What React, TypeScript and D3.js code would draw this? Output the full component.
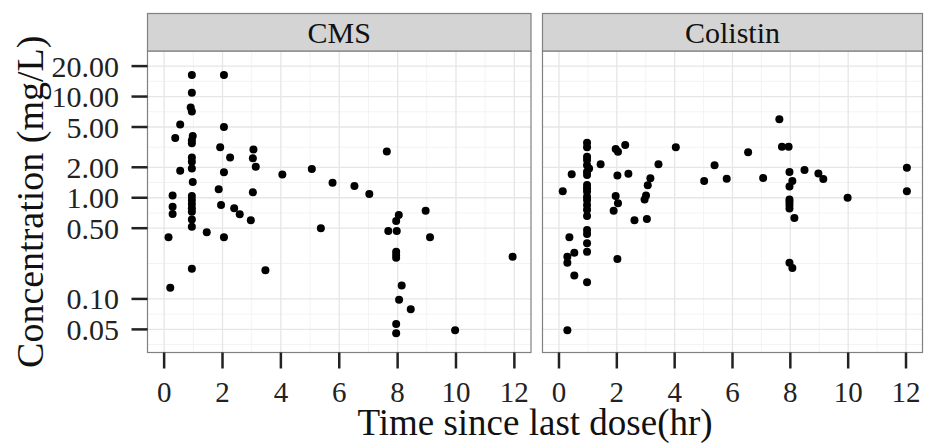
import React from "react";
import * as d3 from "d3";

const panelNames = ["CMS", "Colistin"];

const cmsTime = [0.95, 2.05, 0.95, 0.91, 0.95, 0.55, 2.05, 0.38, 0.98, 0.95, 0.95, 1.92, 3.06, 2.26, 3.04, 0.95, 0.95, 0.95, 0.55, 2.05, 3.14, 4.05, 5.06, 5.77, 0.98, 0.29, 0.95, 1.87, 3.04, 7.63, 6.52, 7.03, 0.95, 0.95, 0.29, 0.95, 0.95, 0.29, 1.95, 2.4, 2.59, 2.97, 0.95, 0.95, 0.15, 1.46, 2.05, 5.37, 0.95, 3.47, 0.21, 8.96, 8.04, 7.95, 7.68, 7.97, 9.11, 7.95, 7.95, 7.95, 11.94, 8.14, 8.05, 8.45, 7.95, 7.95, 9.97];
const cmsConc = [16.3, 16.3, 10.9, 7.8, 7.1, 5.3, 5.0, 3.9, 4.07, 3.7, 3.45, 3.15, 3.0, 2.5, 2.45, 2.5, 2.27, 1.95, 1.85, 1.79, 2.02, 1.7, 1.92, 1.41, 1.43, 1.05, 1.04, 1.21, 1.13, 2.87, 1.31, 1.09, 0.95, 0.866, 0.815, 0.786, 0.727, 0.69, 0.847, 0.786, 0.685, 0.6, 0.61, 0.517, 0.406, 0.455, 0.406, 0.5, 0.199, 0.192, 0.129, 0.744, 0.675, 0.59, 0.469, 0.469, 0.406, 0.292, 0.272, 0.255, 0.261, 0.136, 0.098, 0.079, 0.0565, 0.0457, 0.049];

const colTime = [0.97, 0.97, 1.96, 2.04, 2.29, 4.04, 0.97, 0.97, 1.04, 0.97, 0.97, 0.97, 1.44, 0.44, 3.44, 2.02, 2.4, 3.16, 3.07, 5.38, 5.02, 5.8, 0.97, 0.97, 0.97, 0.97, 0.13, 1.96, 3.01, 0.97, 0.97, 0.97, 0.97, 2.04, 1.89, 2.96, 2.61, 3.04, 0.97, 0.97, 0.36, 0.97, 0.97, 0.53, 0.29, 0.29, 2.02, 0.53, 0.97, 0.29, 7.62, 7.71, 7.94, 6.54, 8.49, 7.97, 8.97, 9.14, 7.06, 8.07, 7.97, 12.03, 12.03, 9.98, 7.97, 7.97, 7.97, 7.97, 8.14, 7.97, 8.07];
const colConc = [3.5, 3.15, 3.03, 2.85, 3.32, 3.15, 2.54, 2.36, 1.95, 2.1, 1.81, 1.68, 2.14, 1.71, 2.14, 1.66, 1.73, 1.56, 1.33, 2.09, 1.46, 1.54, 1.34, 1.24, 1.15, 1.02, 1.16, 1.04, 1.05, 0.95, 0.85, 0.76, 0.66, 0.88, 0.744, 0.96, 0.6, 0.616, 0.48, 0.437, 0.406, 0.355, 0.292, 0.286, 0.261, 0.228, 0.248, 0.17, 0.146, 0.049, 5.96, 3.19, 3.19, 2.81, 1.88, 1.8, 1.74, 1.53, 1.57, 1.46, 1.29, 1.98, 1.16, 1.0, 0.96, 0.91, 0.85, 0.785, 0.63, 0.228, 0.202];

const xTicks = [0, 2, 4, 6, 8, 10, 12];
const xMinor = [1, 3, 5, 7, 9, 11];
const yTicks = [0.05, 0.1, 0.5, 1, 2, 5, 10, 20];
const yTickLabels = ["0.05", "0.10", "0.50", "1.00", "2.00", "5.00", "10.00", "20.00"];

const FONT = "'Liberation Serif', 'Times New Roman', serif";

export default function App() {
  const top = 51;
  const bottom = 352.5;
  const stripTop = 13.5;
  const panelX = [
    [147.5, 531],
    [542.5, 922.5],
  ];
  const y = d3.scaleLog().domain([0.02955, 28.2]).range([bottom, top]);
  const ly = yTicks.map((v) => Math.log10(v));
  const dom = y.domain().map((v) => Math.log10(v));
  const yMinor: number[] = [];
  for (let i = 0; i < ly.length - 1; i++) yMinor.push(Math.pow(10, (ly[i] + ly[i + 1]) / 2));
  const step0 = ly[1] - ly[0];
  if (ly[0] - step0 / 2 > dom[0]) yMinor.push(Math.pow(10, ly[0] - step0 / 2));
  const stepN = ly[ly.length - 1] - ly[ly.length - 2];
  if (ly[ly.length - 1] + stepN / 2 < dom[1]) yMinor.push(Math.pow(10, ly[ly.length - 1] + stepN / 2));

  const datasets = [
    { t: cmsTime, c: cmsConc },
    { t: colTime, c: colConc },
  ];

  return (
    <svg width={925} height={443} style={{ display: "block", position: "absolute", left: 0, top: 0, background: "#fff" }}>
      <rect x={0} y={0} width={925} height={443} fill="#fff" />
      {panelX.map((px, pi) => {
        const x = d3.scaleLinear().domain([-0.57, 12.57]).range(px);
        const ds = datasets[pi];
        return (
          <g key={pi}>
            <rect x={px[0]} y={top} width={px[1] - px[0]} height={bottom - top} fill="#fff" />
            {yMinor.map((v, i) => (
              <line key={"ym" + i} x1={px[0]} x2={px[1]} y1={y(v)} y2={y(v)} stroke="#f3f3f3" strokeWidth={1} />
            ))}
            {xMinor.map((v, i) => (
              <line key={"xm" + i} x1={x(v)} x2={x(v)} y1={top} y2={bottom} stroke="#f3f3f3" strokeWidth={1} />
            ))}
            {yTicks.map((v, i) => (
              <line key={"yg" + i} x1={px[0]} x2={px[1]} y1={y(v)} y2={y(v)} stroke="#e6e6e6" strokeWidth={1.3} />
            ))}
            {xTicks.map((v, i) => (
              <line key={"xg" + i} x1={x(v)} x2={x(v)} y1={top} y2={bottom} stroke="#e6e6e6" strokeWidth={1.3} />
            ))}
            {ds.t.map((t, i) => (
              <circle key={"p" + i} cx={x(t)} cy={y(ds.c[i])} r={4} fill="#000" />
            ))}
            <rect x={px[0]} y={top} width={px[1] - px[0]} height={bottom - top} fill="none" stroke="#808080" strokeWidth={1.2} />
            <rect x={px[0]} y={stripTop} width={px[1] - px[0]} height={top - stripTop} fill="#d4d4d4" stroke="#808080" strokeWidth={1.2} />
            <text x={(px[0] + px[1]) / 2} y={43} textAnchor="middle" fontFamily={FONT} fontSize={30} fill="#111">
              {panelNames[pi]}
            </text>
            {xTicks.map((v, i) => (
              <g key={"xt" + i}>
                <line x1={x(v)} x2={x(v)} y1={bottom} y2={bottom + 16} stroke="#222" strokeWidth={2.5} />
                <text x={x(v)} y={402} textAnchor="middle" fontFamily={FONT} fontSize={29} fill="#222">
                  {String(v)}
                </text>
              </g>
            ))}
          </g>
        );
      })}
      {yTicks.map((v, i) => (
        <g key={"yt" + i}>
          <line x1={131.5} x2={147.5} y1={y(v)} y2={y(v)} stroke="#222" strokeWidth={2.5} />
          <text x={119} y={y(v)} dy="0.35em" textAnchor="end" fontFamily={FONT} fontSize={30} fill="#222">
            {yTickLabels[i]}
          </text>
        </g>
      ))}
      <text x={535} y={435} textAnchor="middle" fontFamily={FONT} fontSize={37} fill="#111">
        Time since last dose(hr)
      </text>
      <text transform={`translate(43,${(top + bottom) / 2}) rotate(-90)`} textAnchor="middle" fontFamily={FONT} fontSize={38} fill="#111">
        Concentration (mg/L)
      </text>
    </svg>
  );
}
